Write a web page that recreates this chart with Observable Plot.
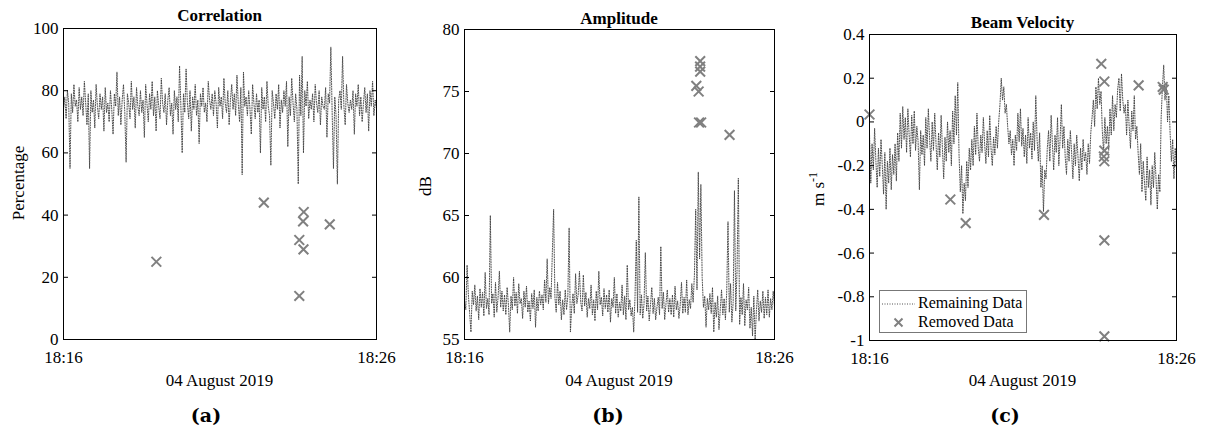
<!DOCTYPE html>
<html><head><meta charset="utf-8">
<script src="https://cdn.jsdelivr.net/npm/d3@7"></script>
<script src="https://cdn.jsdelivr.net/npm/@observablehq/plot@0.6"></script>
<style>
html,body{margin:0;padding:0;background:#fff;}
body{width:1206px;height:432px;overflow:hidden;position:relative;font-family:"Liberation Serif","Times New Roman",serif;color:#000;}
.panel{position:absolute;top:0;}
.abs{position:absolute;white-space:nowrap;transform:translate(-50%,-50%);line-height:1;}
.title{font-weight:bold;font-size:17px;}
.xlab{font-size:17px;}
.ylab{font-size:17px;transform:translate(-50%,-50%) rotate(-90deg);}
.ylab sup{font-size:12px;vertical-align:7px;}
.sub{font-family:"DejaVu Serif",serif;font-weight:bold;font-size:19px;}
.legend{position:absolute;left:879px;top:290px;width:146px;height:41px;border:1px solid #777;background:#fff;font-size:16px;}
.legend svg{position:absolute;left:0;top:0;}
.legend span{position:absolute;left:38px;white-space:nowrap;}
</style></head><body>
<script>
// ---- data ----
const startTime = Date.UTC(2019, 7, 4, 18, 16, 0);
const endTime = Date.UTC(2019, 7, 4, 18, 26, 0);
const stepSeconds = 2.5;
const xTickLabels = ["18:16", "18:26"];
const dateLabel = "04 August 2019";
const panelTitles = ["Correlation", "Amplitude", "Beam Velocity"];
const panelLetters = ["(a)", "(b)", "(c)"];
const legendLabels = ["Remaining Data", "Removed Data"];

const corrValues = [
74,78,71,80,76,55,79,73,82,75,
77,70,81,74,78,72,83,76,69,79,
55,80,73,77,68,82,75,71,79,74,
78,67,81,73,76,70,80,74,66,79,
75,86,72,78,69,77,82,73,57,79,
76,71,83,74,78,68,81,75,72,80,
73,77,65,82,76,70,79,74,83,72,
78,67,80,75,71,84,76,73,79,69,
77,81,72,76,66,80,74,78,70,88,
75,60,79,73,87,76,71,80,67,78,
74,82,72,77,63,79,75,81,73,76,
70,83,77,74,79,72,80,76,68,81,
75,78,71,84,76,73,80,69,77,82,
74,79,72,85,76,70,81,53,86,75,
78,72,80,74,66,82,76,71,79,73,
77,60,81,74,78,70,83,75,72,56,
80,76,71,79,74,82,68,77,73,80,
75,83,62,78,72,84,76,70,79,74,
50,85,72,91,60,80,75,83,71,77,
74,79,70,82,76,73,80,69,78,75,
74,81,65,79,76,94,73,55,78,72,
50,77,80,74,91,75,69,82,76,73,
77,74,80,66,79,75,82,72,78,70,
76,81,73,79,67,80,75,83,72,77,
74];
const corrRemovedT = [178, 384, 452, 460, 452, 460.5, 459.3, 510.4];
const corrRemovedV = [25, 44, 32, 29, 14, 41, 38, 37];
const corrTicks = [0, 20, 40, 60, 80, 100];

const ampValues = [
58.2,57.4,61.0,58.6,57.1,55.6,58.9,57.8,59.4,57.3,
58.5,56.6,59.1,57.6,58.8,56.9,60.4,57.5,58.3,57.0,
65.0,57.9,58.7,56.8,59.6,57.2,58.4,60.5,57.6,58.9,
57.3,58.6,57.0,59.2,57.8,55.6,58.5,57.4,60.0,57.7,
58.8,57.1,59.5,57.9,58.3,56.7,58.9,57.6,59.3,57.2,
58.1,56.5,58.7,57.5,59.0,56.0,58.4,57.3,58.9,57.8,
58.6,57.4,59.8,58.0,61.5,57.9,59.2,58.3,62.0,65.5,
58.4,57.2,59.6,57.8,58.9,56.6,58.2,57.0,59.0,57.4,
58.5,64.0,55.6,57.6,58.7,57.1,60.3,57.9,58.6,60.5,
58.0,57.3,60.2,57.7,58.8,56.8,58.3,57.5,59.4,57.0,
58.2,56.5,58.9,57.4,60.5,57.8,58.4,56.9,59.1,57.5,
58.6,57.2,59.0,56.4,58.3,57.6,60.0,57.1,58.7,56.8,
58.0,57.3,59.4,57.0,58.5,56.6,61.0,57.4,58.2,56.9,
57.6,55.6,58.4,63.0,57.2,66.5,57.0,58.6,56.7,57.9,
62.0,57.3,58.5,56.5,57.8,59.2,57.1,58.3,56.6,57.6,
58.4,57.0,62.5,57.5,58.8,56.6,57.9,59.0,57.2,58.3,
57.0,58.6,56.8,59.3,57.4,58.1,56.7,57.8,59.6,57.1,
58.4,57.2,59.8,57.0,58.2,57.5,59.5,58.0,60.2,65.5,
59.0,68.5,61.5,67.5,60.0,57.6,58.5,56.0,58.3,57.4,
58.7,57.1,59.2,55.6,58.0,56.8,58.5,55.8,57.4,59.0,
57.0,58.3,56.6,58.8,64.5,57.2,59.5,56.4,58.0,67.0,
57.3,60.6,68.0,56.2,58.4,57.0,59.5,56.1,58.2,57.4,
59.2,55.9,57.6,55.3,58.5,55.0,57.3,59.0,56.5,58.1,
57.2,58.9,56.7,58.4,57.0,59.0,56.8,58.3,57.4,58.9,
57.6];
const ampRemovedT = [448.7, 453.2, 456.2, 456.0, 456.2, 454, 458, 513];
const ampRemovedV = [75.45, 75.0, 77.45, 77.0, 76.6, 72.5, 72.5, 71.5];
const ampTicks = [55, 60, 65, 70, 75, 80];

const velValues = [
-0.05,-0.28,-0.10,-0.22,-0.03,-0.18,-0.30,-0.12,-0.25,-0.08,
-0.20,-0.33,-0.14,-0.40,-0.18,-0.28,-0.12,-0.31,-0.15,-0.24,
-0.10,-0.27,-0.05,-0.18,0.04,-0.12,0.07,-0.08,0.02,-0.14,
0.06,-0.06,-0.16,0.03,-0.10,0.05,-0.13,-0.02,-0.09,-0.31,
-0.04,-0.15,-0.06,-0.20,0.02,-0.12,0.06,-0.08,-0.18,0.00,
-0.13,0.04,-0.10,-0.22,-0.05,-0.16,0.03,-0.12,-0.26,-0.07,
-0.18,0.00,-0.14,-0.04,-0.20,0.05,-0.10,0.12,-0.06,0.18,
-0.15,-0.32,-0.20,-0.42,-0.28,-0.36,-0.18,-0.30,-0.12,-0.22,
-0.08,-0.20,-0.02,-0.15,0.04,-0.12,-0.18,-0.06,-0.14,0.02,
-0.10,-0.19,-0.04,-0.16,0.03,-0.12,-0.20,-0.07,-0.15,-0.02,
-0.12,0.00,0.08,0.20,0.10,0.16,0.04,0.08,-0.02,-0.10,
-0.04,-0.15,-0.08,-0.20,-0.06,-0.13,0.04,-0.09,0.06,-0.11,
-0.03,-0.16,-0.06,-0.19,0.02,-0.12,-0.05,-0.17,0.00,-0.13,
0.12,-0.08,-0.18,-0.05,-0.30,-0.20,-0.41,-0.22,-0.26,-0.12,
-0.04,-0.18,0.03,-0.10,-0.22,-0.06,-0.14,0.02,-0.20,-0.08,
0.08,-0.12,-0.02,-0.16,-0.24,-0.08,-0.18,-0.04,-0.14,-0.26,
-0.10,-0.20,-0.06,-0.16,-0.27,-0.12,-0.22,-0.08,-0.18,-0.14,
-0.24,-0.10,-0.19,-0.05,0.02,0.10,-0.02,0.16,0.06,0.20,
0.08,0.14,-0.04,-0.14,0.02,-0.10,-0.02,-0.13,0.06,-0.06,
0.12,-0.04,0.08,0.02,0.15,0.20,0.05,0.22,0.10,0.04,
0.08,-0.06,0.10,-0.02,-0.12,0.05,-0.04,0.12,-0.08,-0.02,
-0.14,-0.24,-0.10,-0.32,-0.18,-0.28,-0.36,-0.16,-0.30,-0.22,
-0.38,-0.20,-0.30,-0.14,-0.26,-0.40,-0.24,-0.32,0.02,0.16,
0.26,0.10,0.18,0.00,0.12,-0.05,-0.18,-0.08,-0.26,-0.12,
-0.22];
const velRemovedT = [0, 158, 188, 341, 453, 459, 459, 458, 459, 459, 459, 526, 573, 575];
const velRemovedV = [0.034, -0.355, -0.463, -0.425, 0.266, 0.185, -0.131, -0.158, -0.18, -0.542, -0.981, 0.167, 0.16, 0.148];
const velTicks = [-1, -0.8, -0.6, -0.4, -0.2, 0, 0.2, 0.4];

// ---- layout ----
const panels = [
  {values: corrValues, rt: corrRemovedT, rv: corrRemovedV, ticks: corrTicks, domain: [0, 100],
   left: 0, width: 400, height: 400, mL: 63, mR: 24, mT: 28, mB: 61, ylabel: "Percentage", ylx: 18, yly: 183, sub: 206, titleY: 15},
  {values: ampValues, rt: ampRemovedT, rv: ampRemovedV, ticks: ampTicks, domain: [55, 80],
   left: 400, width: 400, height: 400, mL: 64, mR: 26, mT: 29, mB: 61, ylabel: "dB", ylx: 425, yly: 186, sub: 608, titleY: 18},
  {values: velValues, rt: velRemovedT, rv: velRemovedV, ticks: velTicks, domain: [-1, 0.4],
   left: 800, width: 406, height: 400, mL: 69, mR: 30, mT: 34, mB: 60, ylabel: "m s<sup>-1</sup>", ylx: 817, yly: 189, sub: 1005, titleY: 22}
];

const body = document.body;
function addText(cls, html, x, y) {
  const d = document.createElement("div");
  d.className = "abs " + cls;
  d.innerHTML = html;
  d.style.left = x + "px";
  d.style.top = y + "px";
  body.appendChild(d);
}

panels.forEach((p, k) => {
  const line = p.values.map((v, i) => ({t: new Date(startTime + i * stepSeconds * 1000), v}));
  const removed = p.rt.map((s, i) => ({t: new Date(startTime + s * 1000), v: p.rv[i]}));
  const fmt = d3.utcFormat("%H:%M");
  const chart = Plot.plot({
    width: p.width, height: p.height,
    marginLeft: p.mL, marginRight: p.mR, marginTop: p.mT, marginBottom: p.mB,
    style: {fontFamily: "'Liberation Serif', serif", fontSize: "17px", background: "transparent", color: "#000", overflow: "visible"},
    x: {type: "utc", domain: [new Date(startTime), new Date(endTime)]},
    y: {domain: p.domain},
    marks: [
      Plot.line(line, {x: "t", y: "v", stroke: "#3c3c3c", strokeWidth: 0.9, strokeDasharray: "1,1.5", clip: true}),
      Plot.dot(removed, {x: "t", y: "v", symbol: "times", r: 4.5, stroke: "#808080", strokeWidth: 2}),
      Plot.frame({stroke: "#000", strokeWidth: 1}),
      Plot.axisX({ticks: [new Date(startTime), new Date(endTime)], tickFormat: (d, i) => xTickLabels[i] ?? fmt(d), tickSize: 0, tickPadding: 11, label: null, fontSize: 17}),
      Plot.axisY({ticks: p.ticks, tickFormat: d => String(d), tickSize: 0, tickPadding: 5, label: null, fontSize: 17}),
      Plot.axisY({ticks: p.ticks, tickFormat: () => "", tickSize: -5, label: null}),
      Plot.axisY({anchor: "right", ticks: p.ticks, tickFormat: () => "", tickSize: -5, label: null})
    ]
  });
  chart.classList.add("panel");
  chart.style.left = p.left + "px";
  body.appendChild(chart);
  const cx = p.left + p.mL + (p.width - p.mL - p.mR) / 2;
  addText("title", panelTitles[k], cx, p.titleY);
  addText("xlab", dateLabel, cx, 380);
  addText("ylab", p.ylabel, p.ylx, p.yly);
  addText("sub", panelLetters[k], p.sub, 415);
});

// legend
const lg = document.createElement("div");
lg.className = "legend";
lg.innerHTML =
  `<svg width="40" height="41"><line x1="2" x2="35" y1="13" y2="13" stroke="#3c3c3c" stroke-width="0.9" stroke-dasharray="1,1.5"/>` +
  `<path d="M14.5,27.5l8,8M22.5,27.5l-8,8" stroke="#808080" stroke-width="2" fill="none"/></svg>` +
  `<span style="top:3px">${legendLabels[0]}</span><span style="top:22px">${legendLabels[1]}</span>`;
body.appendChild(lg);
</script></body></html>
